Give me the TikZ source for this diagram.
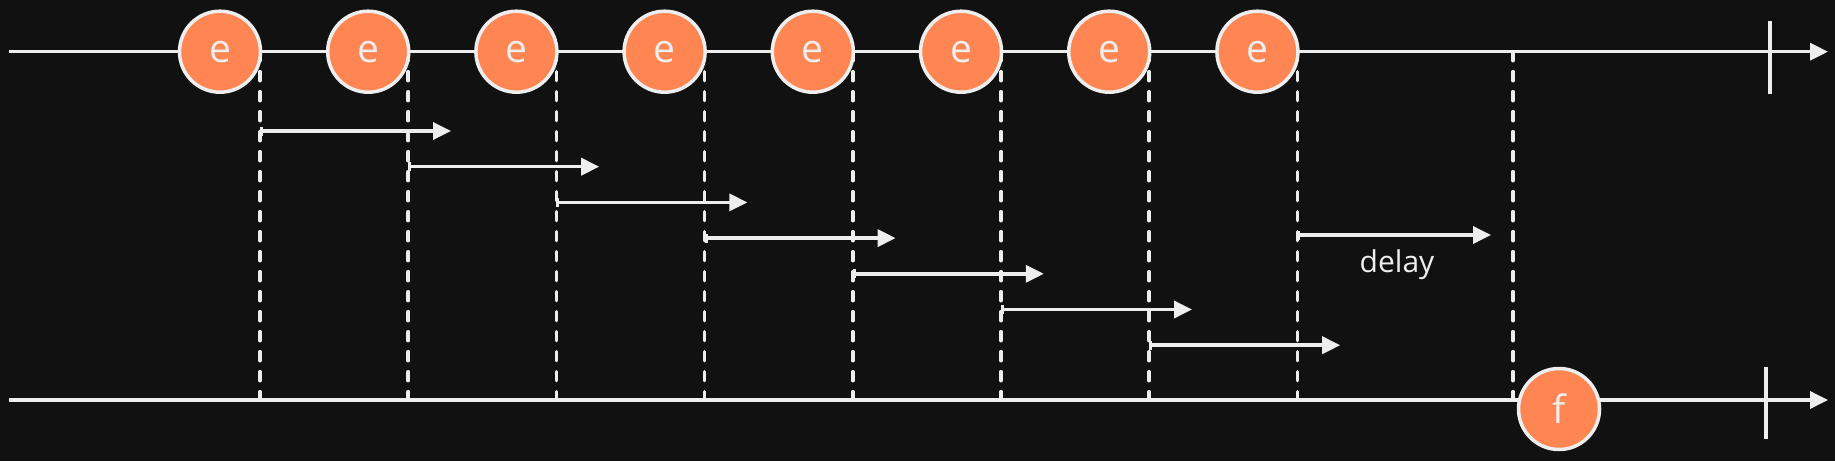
\documentclass[tikz,border=0pt]{standalone}
\usepackage{fontspec}
\setmainfont{Open Sans}
\usetikzlibrary{arrows.meta}
\definecolor{bg}{HTML}{111111}
\definecolor{fg}{HTML}{EEEEEE}
\definecolor{evc}{HTML}{FF8652}
\begin{document}
\begin{tikzpicture}[x=1pt,y=-1pt,
 axis/.style={draw=fg,line width=3.5pt,-{Triangle[length=18pt,width=17pt]}},
 tick/.style={draw=fg,line width=3.5pt},
 evnode/.style={circle,draw=fg,fill=evc,line width=3.5pt,minimum size=81pt,inner sep=0pt,text=fg,font=\fontsize{39}{41}\selectfont},
 guide/.style={draw=fg,line width=3.5pt,dash pattern=on 9pt off 11pt,line cap=round},
 span/.style={draw=fg,line width=3.5pt,{Bar[width=9pt,line width=3pt]}-{Triangle[length=18pt,width=17pt]}},
 lbl/.style={text=fg,font=\fontsize{30}{32}\selectfont}]
\fill[bg] (0,0) rectangle (1835,461);
\useasboundingbox (0,0) rectangle (1835,461);
% axes
\coordinate (tA) at (9,51.7);
\coordinate (tB) at (1828,51.7);
\coordinate (bA) at (9,400);
\coordinate (bB) at (1828,400);
% guides
\foreach \k in {0,...,7}{
  \coordinate (gt\k) at ({260+148.2*\k},51.7);
  \coordinate (gb\k) at ({260+148.2*\k},400);
  \draw[guide] (gt\k) -- (gb\k);
}
\coordinate (gt8) at (1513,51.7);
\coordinate (gb8) at (1513,400);
\draw[guide] (gt8) -- (gb8);
\draw[axis] (tA) -- (tB);
\draw[axis] (bA) -- (bB);
% ticks
\coordinate (tk1a) at (1770,21);
\coordinate (tk1b) at (1770,94);
\coordinate (tk2a) at (1766,367);
\coordinate (tk2b) at (1766,439);
\draw[tick] (tk1a) -- (tk1b);
\draw[tick] (tk2a) -- (tk2b);
% span arrows
\foreach \k in {0,...,6}{
  \coordinate (sa\k) at ({260+148.2*\k},{131+35.7*\k});
  \coordinate (sb\k) at ({451+148.2*\k},{131+35.7*\k});
  \draw[span] (sa\k) -- (sb\k);
}
\coordinate (da) at (1297.4,235);
\coordinate (db) at (1491,235);
\draw[span] (da) -- (db);
\node[lbl,anchor=base] (delay) at (1397,272) {delay};
% events
\foreach \k in {1,...,8}{
  \node[evnode] (e\k) at ({220+148.2*(\k-1)},51.7) {e};
}
\node[evnode] (f) at (1559,409) {f};
\end{tikzpicture}
\end{document}
